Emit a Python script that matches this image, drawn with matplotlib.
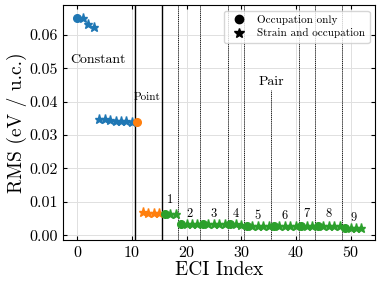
import numpy as np
import matplotlib
matplotlib.use("Agg")
import matplotlib.pyplot as plt
from matplotlib.lines import Line2D

plt.rcParams['font.family'] = 'serif'
plt.rcParams['font.serif'] = ['cmr10', 'DejaVu Serif']
plt.rcParams['mathtext.fontset'] = 'cm'
plt.rcParams['axes.formatter.use_mathtext'] = True

# constant terms (blue)
const_x = [0, 1, 2, 3, 4, 5, 6, 7, 8, 9, 10]
const_y = [0.0652, 0.0652, 0.0634, 0.0625, 0.0347, 0.0347, 0.0346, 0.0342, 0.0341, 0.0341, 0.0340]
const_occ = [0]

# point terms (orange)
point_x = [11, 12, 13, 14, 15]
point_y = [0.0339, 0.0069, 0.0068, 0.0068, 0.0067]
point_occ = [11]

# pair terms (green), 9 clusters
pair_x = list(range(16, 53))
pair_y = [0.0065, 0.0065, 0.0064,
          0.0035, 0.0034, 0.0034, 0.0034,
          0.0035, 0.0034, 0.0034, 0.0034, 0.0034,
          0.0035, 0.0034, 0.0032,
          0.0027, 0.0027, 0.0027, 0.0027, 0.0027,
          0.0028, 0.0027, 0.0027, 0.0027, 0.0027,
          0.0028, 0.0028, 0.0027,
          0.0029, 0.0028, 0.0028, 0.0027, 0.0027,
          0.0022, 0.0021, 0.0021, 0.0021]
pair_occ = [16, 19, 23, 28, 31, 36, 41, 44, 49]

solid_lines = [10.5, 15.5]
dashed_lines = [18.5, 22.5, 27.5, 30.5, 40.5, 43.5, 48.5]
pair_line = 35.5
cluster_labels = ['1', '2', '3', '4', '5', '6', '7', '8', '9']
cluster_label_x = [17, 20.5, 25, 29, 33, 38, 42, 46, 50.5]
cluster_label_y = [0.0105, 0.0064, 0.0065, 0.0065, 0.0058, 0.0059, 0.0064, 0.0064, 0.0051]

fig, ax = plt.subplots(figsize=(3.82, 2.86), dpi=100)

def draw_group(xs, ys, occ, color):
    for x, y in zip(xs, ys):
        if x in occ:
            ax.plot(x, y, 'o', color=color, ms=5.5, zorder=4)
        else:
            ax.plot(x, y, '*', color=color, ms=6.5, zorder=4)

draw_group(const_x, const_y, const_occ, 'tab:blue')
draw_group(point_x, point_y, point_occ, 'tab:orange')
draw_group(pair_x, pair_y, pair_occ, 'tab:green')

for xv in solid_lines:
    ax.axvline(xv, color='black', lw=1.0, zorder=2)
for xv in dashed_lines:
    ax.axvline(xv, color='black', lw=0.6, ls=(0, (1.5, 0.8)), zorder=2)
ax.plot([pair_line, pair_line], [-0.01, 0.0435], color='black', lw=0.6, ls=(0, (1.5, 0.8)), zorder=2)

ax.text(3.7, 0.0524, 'Constant', fontsize=10, ha='center', va='center')
ax.text(12.8, 0.0414, 'Point', fontsize=8, ha='center', va='center')
ax.text(35.5, 0.0458, 'Pair', fontsize=10, ha='center', va='center')
for lab, lx, ly in zip(cluster_labels, cluster_label_x, cluster_label_y):
    ax.text(lx, ly, lab, fontsize=9, ha='center', va='center')

ax.set_xlim(-2.6, 54.5)
ax.set_ylim(-0.0015, 0.0689)
ax.set_xticks([0, 10, 20, 30, 40, 50])
ax.set_yticks([0.0, 0.01, 0.02, 0.03, 0.04, 0.05, 0.06])
ax.set_yticklabels(['0.00', '0.01', '0.02', '0.03', '0.04', '0.05', '0.06'])
ax.tick_params(direction='in', top=True, right=True, labelsize=11.5, length=3)
ax.grid(True, color='#e0e0e0', lw=0.7, zorder=0)
ax.set_axisbelow(True)
ax.set_xlabel('ECI Index', fontsize=14, labelpad=1)
ax.set_ylabel('RMS (eV / u.c.)', fontsize=14, labelpad=2)

handles = [Line2D([], [], marker='o', color='black', ls='none', ms=6),
           Line2D([], [], marker='*', color='black', ls='none', ms=7)]
ax.legend(handles, ['Occupation only', 'Strain and occupation'], loc='upper right',
          fontsize=8, handletextpad=0.6, borderpad=0.4, labelspacing=0.3)

fig.subplots_adjust(left=0.165, right=0.982, top=0.982, bottom=0.16)
fig.savefig('out.png', dpi=100)
